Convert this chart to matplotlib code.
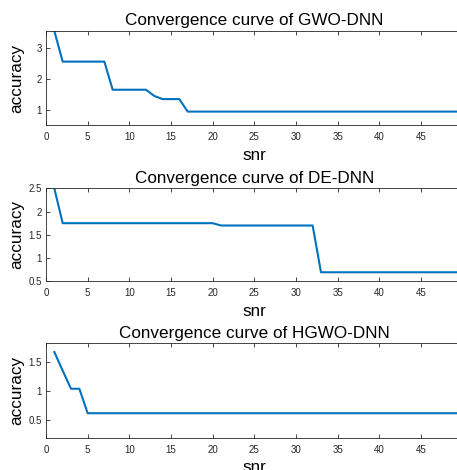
import matplotlib
matplotlib.use('Agg')
from matplotlib import pyplot as plt

plt.rcParams['font.family'] = ['Liberation Sans', 'DejaVu Sans']

# iteration / accuracy vertices
gwo_x = [1, 2, 7, 8, 12, 13, 14, 16, 17, 50]
gwo_y = [3.53, 2.55, 2.55, 1.65, 1.65, 1.45, 1.35, 1.35, 0.95, 0.95]

de_x = [1, 2, 20, 21, 32, 33, 50]
de_y = [2.5, 1.75, 1.75, 1.70, 1.70, 0.69, 0.69]

hgwo_x = [1, 2, 3, 4, 5, 50]
hgwo_y = [1.67, 1.35, 1.04, 1.04, 0.62, 0.62]

titles = ['Convergence curve of GWO-DNN', 'Convergence curve of DE-DNN',
          'Convergence curve of HGWO-DNN']
xticks = [0, 5, 10, 15, 20, 25, 30, 35, 40, 45]

fig = plt.figure(figsize=(4.57, 4.70), dpi=100)

boxes = [[0.1007, 0.734, 0.9116, 0.200],
         [0.1007, 0.402, 0.9116, 0.197],
         [0.1007, 0.0687, 0.9116, 0.2009]]
ylims = [(0.52, 3.53), (0.5, 2.5), (0.2, 1.82)]
yticks = [[1, 2, 3], [0.5, 1, 1.5, 2, 2.5], [0.5, 1, 1.5]]
data = [(gwo_x, gwo_y), (de_x, de_y), (hgwo_x, hgwo_y)]

for i in range(3):
    ax = fig.add_axes(boxes[i])
    x, y = data[i]
    ax.plot(x, y, color='#0072BD', linewidth=1.5)
    ax.set_xlim(0, 50)
    ax.set_ylim(*ylims[i])
    ax.set_xticks(xticks)
    ax.set_yticks(yticks[i])
    ax.set_yticklabels([f'{v:g}' for v in yticks[i]])
    ax.tick_params(direction='in', length=3, width=0.6, labelsize=7,
                   colors='#262626', top=True)
    ax.tick_params(axis='x', pad=5)
    ax.tick_params(axis='y', pad=3)
    for s in ['left', 'bottom', 'top']:
        ax.spines[s].set_linewidth(0.6)
        ax.spines[s].set_color('#262626')
    ax.spines['right'].set_visible(False)
    ax.set_title(titles[i], fontsize=12.3, pad=4)
    ax.set_xlabel('snr', fontsize=12.3, labelpad=4)
    ax.set_ylabel('accuracy', fontsize=12.3)
    ax.yaxis.set_label_coords(-0.052, 0.5)

plt.savefig('out.png', dpi=100)
